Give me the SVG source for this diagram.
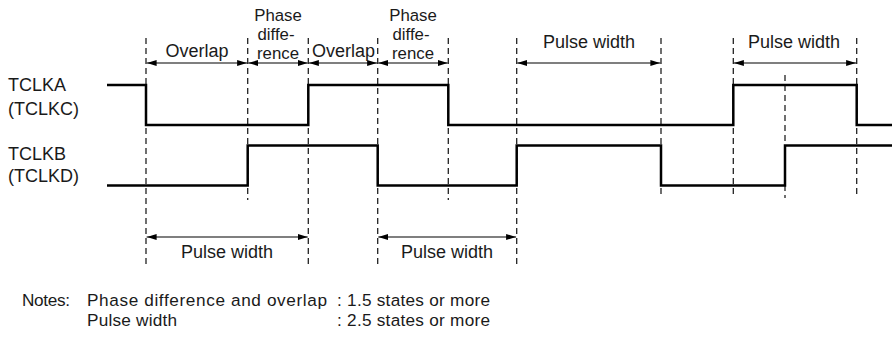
<svg xmlns="http://www.w3.org/2000/svg" width="892" height="342" viewBox="0 0 892 342">
<style>
text{font-family:"Liberation Sans",Arial,sans-serif;font-size:18px;fill:#1a1a1a}
.c{text-anchor:middle}
.s{font-size:16.8px}
.n{font-size:17.2px}
.wave{fill:none;stroke:#000;stroke-width:2.5;stroke-linejoin:miter}
.dash{stroke:#222;stroke-width:1.3;stroke-dasharray:6 4;fill:none}
.dim{stroke:#000;stroke-width:1.2;fill:none;marker-start:url(#ah);marker-end:url(#ah)}
</style>
<defs>
<marker id="ah" viewBox="0 0 10 6" refX="10" refY="3" markerWidth="10" markerHeight="6" markerUnits="userSpaceOnUse" orient="auto-start-reverse">
<path d="M0,0 L10,3 L0,6 Z" fill="#000"/>
</marker>
</defs>
<rect width="892" height="342" fill="#fff"/>
<g id="guides">
<line class="dash" x1="146" y1="38" x2="146" y2="264"/>
<line class="dash" x1="247.7" y1="38" x2="247.7" y2="200"/>
<line class="dash" x1="308.3" y1="38" x2="308.3" y2="264"/>
<line class="dash" x1="377.7" y1="38" x2="377.7" y2="264"/>
<line class="dash" x1="448.3" y1="38" x2="448.3" y2="200"/>
<line class="dash" x1="516.7" y1="38" x2="516.7" y2="264"/>
<line class="dash" x1="661" y1="38" x2="661" y2="198"/>
<line class="dash" x1="733.3" y1="38" x2="733.3" y2="198"/>
<line class="dash" x1="785" y1="75" x2="785" y2="198"/>
<line class="dash" x1="856.7" y1="38" x2="856.7" y2="198"/>
</g>
<g id="tclka">
<text x="8" y="91">TCLKA</text>
<text x="8" y="115">(TCLKC)</text>
<path class="wave" d="M107,85 H146 V125 H308.3 V85 H448.3 V125 H733.3 V85 H856.7 V125 H892"/>
</g>
<g id="tclkb">
<text x="8" y="160">TCLKB</text>
<text x="8" y="182">(TCLKD)</text>
<path class="wave" d="M107,185.5 H247.7 V145.5 H377.7 V185.5 H516.7 V145.5 H661 V185.5 H785 V145.5 H892"/>
</g>
<g id="connectors">
<line class="dim" x1="146.6" y1="63" x2="247.1" y2="63"/>
<line class="dim" x1="248.3" y1="63" x2="307.7" y2="63"/>
<line class="dim" x1="308.9" y1="63" x2="377.1" y2="63"/>
<line class="dim" x1="378.3" y1="63" x2="447.7" y2="63"/>
<line class="dim" x1="517.3" y1="63" x2="660.4" y2="63"/>
<line class="dim" x1="733.9" y1="63" x2="856.1" y2="63"/>
<line class="dim" x1="146.6" y1="237" x2="307.7" y2="237"/>
<line class="dim" x1="378.3" y1="237" x2="516.1" y2="237"/>
</g>
<g id="labels">
<text class="c" x="197" y="57">Overlap</text>
<text class="c s" x="278" y="21">Phase</text>
<text class="c s" x="276" y="40">diffe-</text>
<text class="c s" x="278" y="59">rence</text>
<text class="c" x="343.5" y="57">Overlap</text>
<text class="c s" x="413" y="21">Phase</text>
<text class="c s" x="411" y="40">diffe-</text>
<text class="c s" x="413" y="59">rence</text>
<text class="c" x="589" y="48">Pulse width</text>
<text class="c" x="794" y="48">Pulse width</text>
<text class="c" x="227" y="258">Pulse width</text>
<text class="c" x="447" y="258">Pulse width</text>
</g>
<g id="notes">
<text class="n" x="22" y="306" textLength="48">Notes:</text>
<text class="n" x="87" y="306" textLength="240">Phase difference and overlap</text>
<text class="n" x="337" y="306" textLength="153">: 1.5 states or more</text>
<text class="n" x="87" y="325.5" textLength="90">Pulse width</text>
<text class="n" x="337" y="325.5" textLength="153">: 2.5 states or more</text>
</g>
</svg>
